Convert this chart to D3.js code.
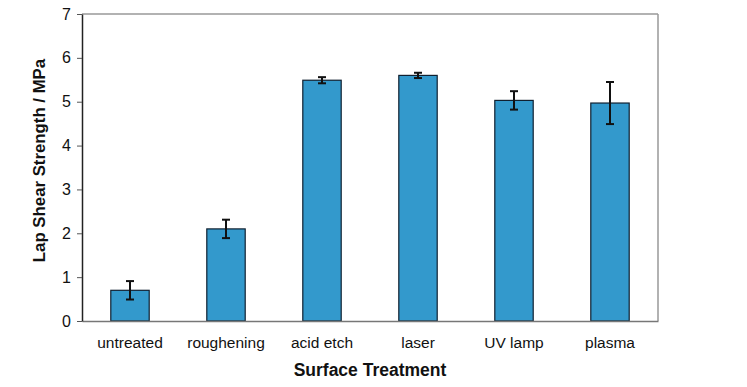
<!DOCTYPE html>
<html>
<head>
<meta charset="utf-8">
<script src="https://cdn.jsdelivr.net/npm/d3@7"></script>
<style>
  body { margin: 0; background: #fff; }
  text { font-family: "Liberation Sans", Arial, sans-serif; }
</style>
</head>
<body>
<div id="chart"></div>
<script>
// data
var treatments = ["untreated", "roughening", "acid etch", "laser", "UV lamp", "plasma"];
var strength = [0.70, 2.10, 5.49, 5.60, 5.03, 4.97];
var errors = [0.21, 0.21, 0.07, 0.06, 0.21, 0.48];
var yTicks = [0, 1, 2, 3, 4, 5, 6, 7];

var margin = { top: 14, right: 89, bottom: 66, left: 82 },
    width = 747 - margin.left - margin.right,
    height = 387 - margin.top - margin.bottom;

var svg = d3.select("#chart")
    .append("svg")
    .attr("width", 747)
    .attr("height", 387)
    .append("g")
    .attr("transform", "translate(" + margin.left + "," + margin.top + ")");

var x = d3.scaleBand()
    .domain(treatments)
    .range([0, width])
    .paddingInner(0.6)
    .paddingOuter(0.3);

var y = d3.scaleLinear()
    .domain([0, 7])
    .range([height, 0]);

// frame: top and right grey lines
svg.append("line")
    .attr("x1", 0).attr("x2", width)
    .attr("y1", 0).attr("y2", 0)
    .attr("stroke", "#999").attr("stroke-width", 1.5);
svg.append("line")
    .attr("x1", width).attr("x2", width)
    .attr("y1", 0).attr("y2", height)
    .attr("stroke", "#999").attr("stroke-width", 1.5);

// bars
svg.append("g")
    .selectAll("rect")
    .data(treatments)
    .enter().append("rect")
    .attr("x", function (d) { return x(d); })
    .attr("y", function (d, i) { return y(strength[i]); })
    .attr("width", x.bandwidth())
    .attr("height", function (d, i) { return y(0) - y(strength[i]); })
    .attr("fill", "#3399CC")
    .attr("stroke", "#102030")
    .attr("stroke-width", 1.2);

// error bars
var err = svg.append("g")
    .selectAll("g")
    .data(treatments)
    .enter().append("g")
    .attr("stroke", "#111")
    .attr("stroke-width", 2);
err.append("line")
    .attr("x1", function (d) { return x(d) + x.bandwidth() / 2; })
    .attr("x2", function (d) { return x(d) + x.bandwidth() / 2; })
    .attr("y1", function (d, i) { return y(strength[i] + errors[i]); })
    .attr("y2", function (d, i) { return y(strength[i] - errors[i]); });
[1, -1].forEach(function (s) {
    err.append("line")
        .attr("x1", function (d) { return x(d) + x.bandwidth() / 2 - 4; })
        .attr("x2", function (d) { return x(d) + x.bandwidth() / 2 + 4; })
        .attr("y1", function (d, i) { return y(strength[i] + s * errors[i]); })
        .attr("y2", function (d, i) { return y(strength[i] + s * errors[i]); });
});

// x axis
var xAxis = svg.append("g")
    .attr("transform", "translate(0," + height + ")")
    .call(d3.axisBottom(x).tickSize(0).tickPadding(16));
xAxis.select(".domain").attr("stroke", "#777").attr("stroke-width", 1.5);
xAxis.selectAll("text").attr("font-size", null).style("font-size", "15.5px").attr("fill", "#111");
xAxis.attr("font-size", null);

// y axis
var yAxis = svg.append("g")
    .call(d3.axisLeft(y).tickValues(yTicks).tickFormat(d3.format("d"))
        .tickSize(5).tickSizeOuter(0).tickPadding(6));
yAxis.attr("font-size", null);
yAxis.select(".domain").attr("stroke", "#222").attr("stroke-width", 1.5);
yAxis.selectAll(".tick line").attr("stroke", "#555");
yAxis.selectAll("text").style("font-size", "16px").attr("fill", "#111");

// axis titles
svg.append("text")
    .attr("text-anchor", "middle")
    .attr("x", width / 2)
    .attr("y", height + 55)
    .style("font-size", "17.5px")
    .style("font-weight", "bold")
    .attr("fill", "#111")
    .text("Surface Treatment");

svg.append("text")
    .attr("text-anchor", "middle")
    .attr("transform", "rotate(-90)")
    .attr("x", -(height / 2) + 7)
    .attr("y", -37)
    .style("font-size", "16.8px")
    .style("font-weight", "bold")
    .attr("fill", "#111")
    .text("Lap Shear Strength / MPa");
</script>
</body>
</html>
